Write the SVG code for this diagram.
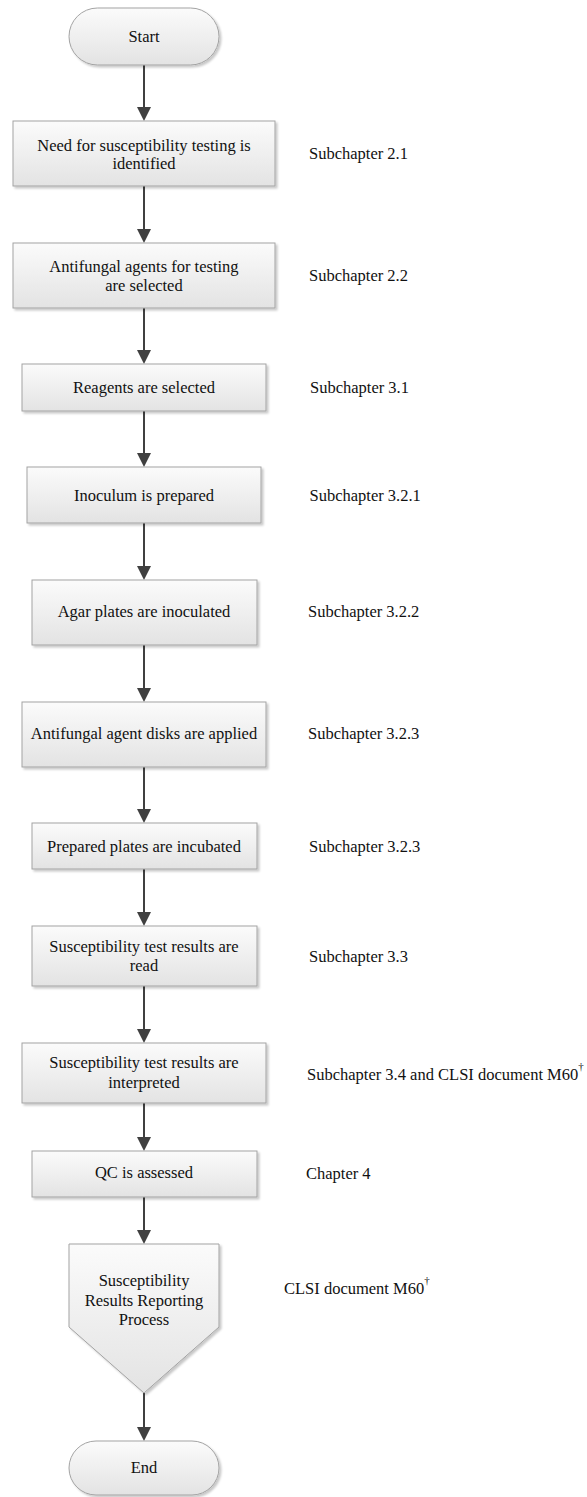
<svg xmlns="http://www.w3.org/2000/svg" width="587" height="1497" viewBox="0 0 587 1497">
<style>
.box{fill:url(#g);stroke:#a3a3a3;stroke-width:1;filter:url(#sh)}
.t{font-family:"Liberation Serif","Times New Roman",serif;font-size:16.5px;fill:#111;text-anchor:middle}
.l{font-family:"Liberation Serif","Times New Roman",serif;font-size:16.5px;fill:#111}
.sup{font-size:11px}
.c{stroke:#404040;stroke-width:2;fill:none;marker-end:url(#ah)}
</style>
<defs>
<linearGradient id="g" x1="0" y1="0" x2="0" y2="1">
<stop offset="0" stop-color="#fbfbfb"/>
<stop offset="1" stop-color="#e3e3e3"/>
</linearGradient>
<filter id="sh" x="-10%" y="-10%" width="125%" height="130%">
<feDropShadow dx="2" dy="2" stdDeviation="1.2" flood-color="#000" flood-opacity="0.22"/>
</filter>
<marker id="ah" markerWidth="14" markerHeight="14" refX="10" refY="7" orient="auto" markerUnits="userSpaceOnUse">
<path d="M0,0 L14,7 L0,14 z" fill="#404040"/>
</marker>
</defs>
<rect width="587" height="1497" fill="#fff"/>
<g id="connectors">
<line class="c" x1="144" y1="65" x2="144" y2="117"/>
<line class="c" x1="144" y1="186" x2="144" y2="239"/>
<line class="c" x1="144" y1="308" x2="144" y2="360"/>
<line class="c" x1="144" y1="411" x2="144" y2="463"/>
<line class="c" x1="144" y1="523" x2="144" y2="576"/>
<line class="c" x1="144" y1="645" x2="144" y2="698"/>
<line class="c" x1="144" y1="767" x2="144" y2="819"/>
<line class="c" x1="144" y1="869" x2="144" y2="922"/>
<line class="c" x1="144" y1="986" x2="144" y2="1039"/>
<line class="c" x1="144" y1="1103" x2="144" y2="1147"/>
<line class="c" x1="144" y1="1197" x2="144" y2="1240"/>
<line class="c" x1="144" y1="1393" x2="144" y2="1437"/>
</g>
<g id="start">
<rect class="box" x="69" y="8" width="150" height="57" rx="28.5"/>
<text class="t" x="144" y="42">Start</text>
</g>
<g id="n1">
<rect class="box" x="13" y="121" width="262" height="65"/>
<text class="t" x="144" y="150.5">Need for susceptibility testing is</text>
<text class="t" x="144" y="169">identified</text>
</g>
<g id="n2">
<rect class="box" x="13" y="243" width="262" height="65"/>
<text class="t" x="144" y="272">Antifungal agents for testing</text>
<text class="t" x="144" y="291">are selected</text>
</g>
<g id="n3">
<rect class="box" x="22" y="364" width="244" height="47"/>
<text class="t" x="144" y="393">Reagents are selected</text>
</g>
<g id="n4">
<rect class="box" x="27" y="467" width="234" height="56"/>
<text class="t" x="144" y="501">Inoculum is prepared</text>
</g>
<g id="n5">
<rect class="box" x="32" y="580" width="225" height="65"/>
<text class="t" x="144" y="617">Agar plates are inoculated</text>
</g>
<g id="n6">
<rect class="box" x="22" y="702" width="244" height="65"/>
<text class="t" x="144" y="739">Antifungal agent disks are applied</text>
</g>
<g id="n7">
<rect class="box" x="32" y="823" width="225" height="46"/>
<text class="t" x="144" y="852">Prepared plates are incubated</text>
</g>
<g id="n8">
<rect class="box" x="32" y="926" width="225" height="60"/>
<text class="t" x="144" y="952">Susceptibility test results are</text>
<text class="t" x="144" y="971">read</text>
</g>
<g id="n9">
<rect class="box" x="22" y="1043" width="244" height="60"/>
<text class="t" x="144" y="1068">Susceptibility test results are</text>
<text class="t" x="144" y="1087.5">interpreted</text>
</g>
<g id="n10">
<rect class="box" x="32" y="1151" width="225" height="46"/>
<text class="t" x="144" y="1178">QC is assessed</text>
</g>
<g id="n11">
<path class="box" d="M69,1244 L219,1244 L219,1327 L144,1393 L69,1327 Z"/>
<text class="t" x="144" y="1286">Susceptibility</text>
<text class="t" x="144" y="1305.5">Results Reporting</text>
<text class="t" x="144" y="1325">Process</text>
</g>
<g id="end">
<rect class="box" x="69" y="1441" width="150" height="54" rx="27"/>
<text class="t" x="144" y="1473">End</text>
</g>
<g id="labels">
<text class="l" x="309" y="159">Subchapter 2.1</text>
<text class="l" x="309" y="281">Subchapter 2.2</text>
<text class="l" x="310" y="393">Subchapter 3.1</text>
<text class="l" x="309.5" y="501">Subchapter 3.2.1</text>
<text class="l" x="308" y="617">Subchapter 3.2.2</text>
<text class="l" x="308" y="739">Subchapter 3.2.3</text>
<text class="l" x="309" y="852">Subchapter 3.2.3</text>
<text class="l" x="309" y="962">Subchapter 3.3</text>
<text class="l" x="307" y="1080">Subchapter 3.4 and CLSI document M60<tspan class="sup" dy="-10">†</tspan></text>
<text class="l" x="306" y="1179">Chapter 4</text>
<text class="l" x="284" y="1294">CLSI document M60<tspan class="sup" dy="-10">†</tspan></text>
</g>
</svg>
